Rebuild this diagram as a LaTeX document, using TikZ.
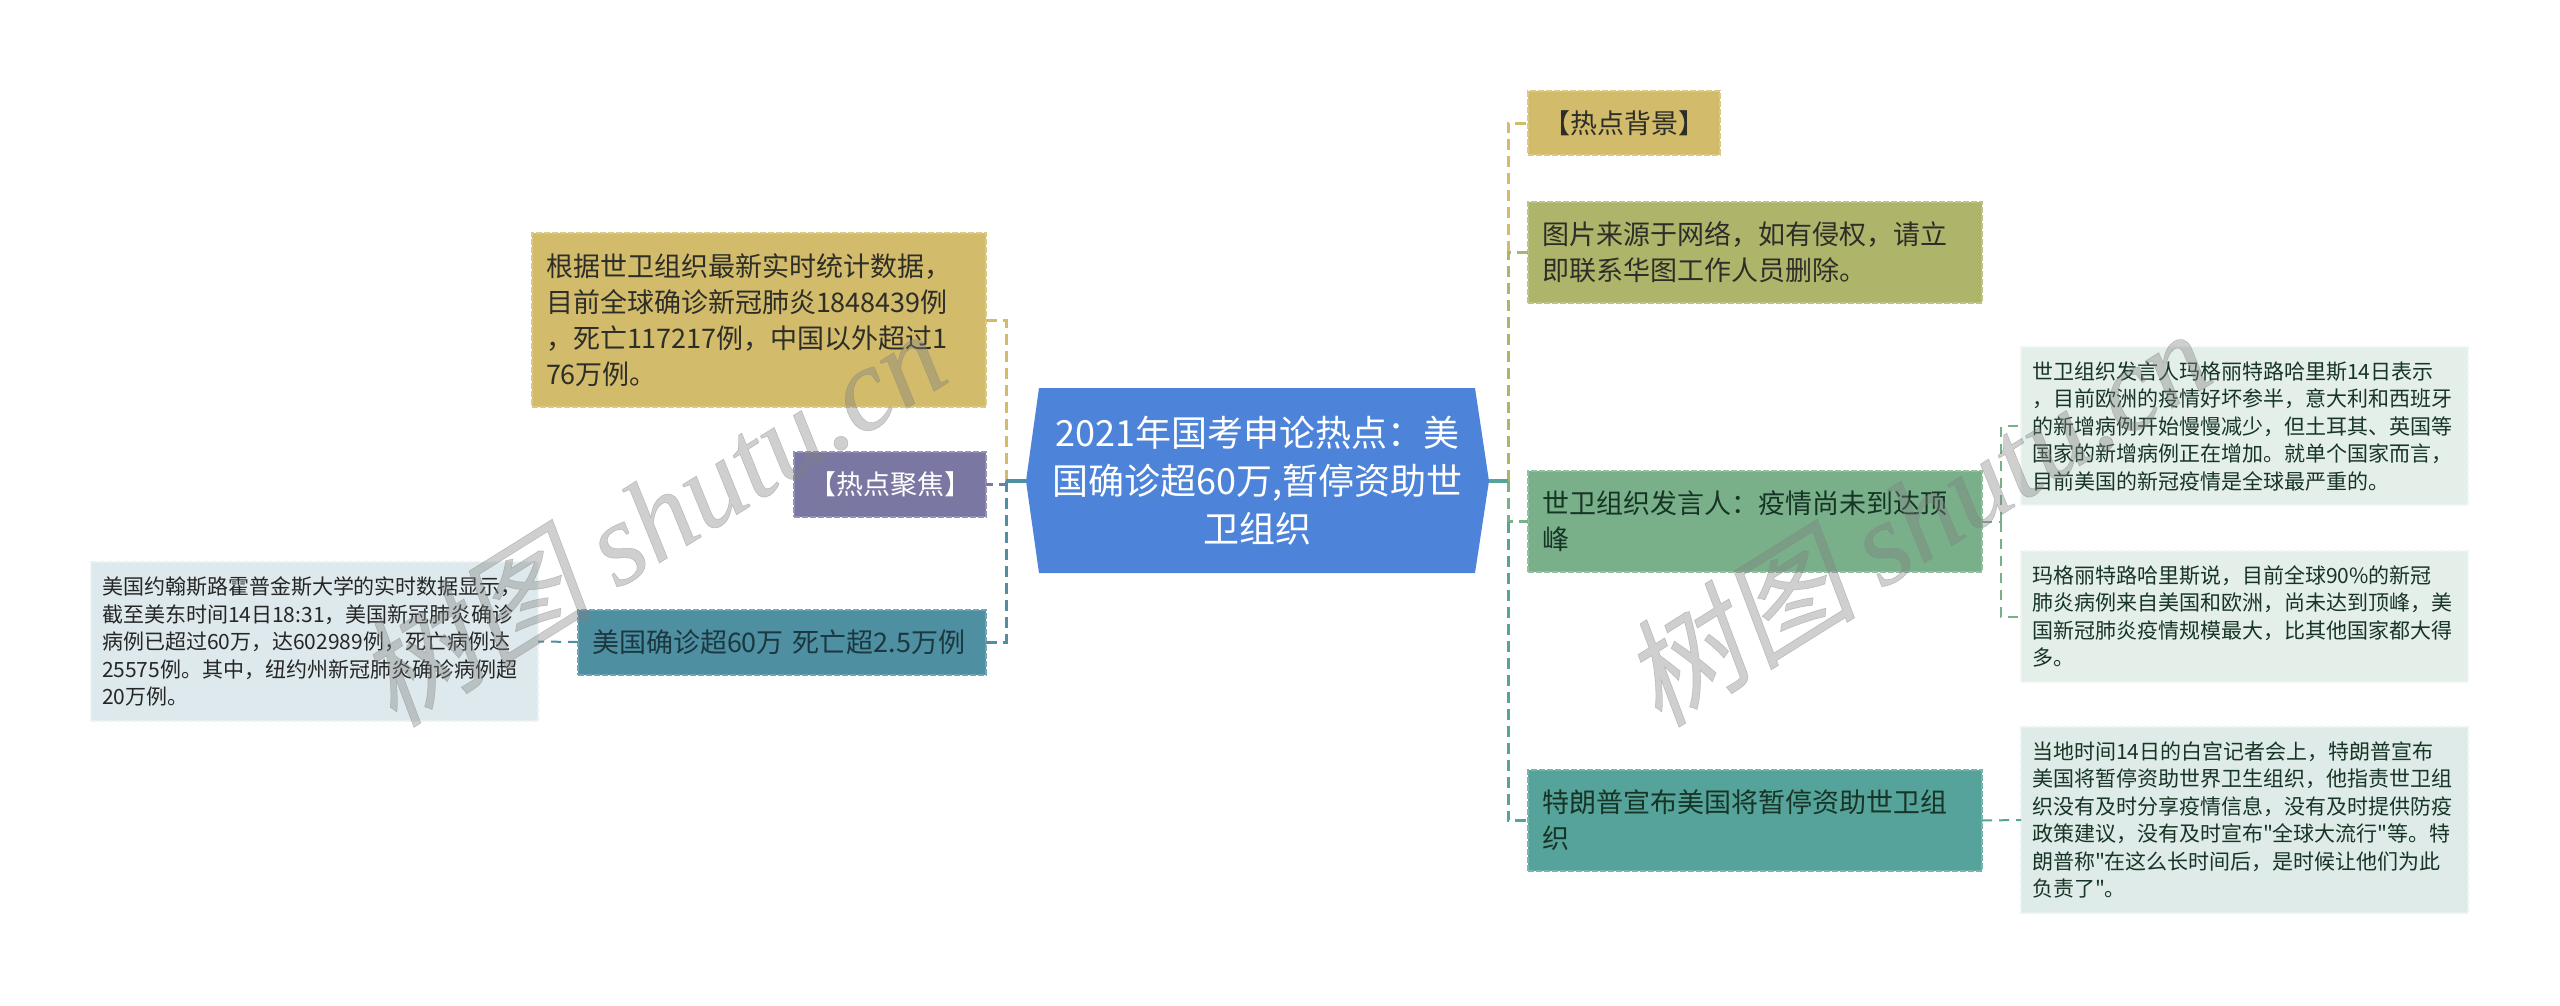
\documentclass[tikz,border=0pt]{standalone}
\usepackage{fontspec}
\newfontfamily\zh{Noto Sans CJK SC}
\setmainfont{Noto Sans CJK SC}
\newfontfamily\wmcjk[FakeSlant=0.2,FakeBold=0.5]{Noto Sans CJK SC}
\newfontfamily\wmlat[FakeBold=0.5]{Liberation Serif Italic}
\newcommand{\cma}{\char"FF0C\relax}
\newcommand{\cln}{\char"FF1A\relax}
\definecolor{cTan}{HTML}{D2BB6A}
\definecolor{cPurple}{HTML}{7A78A2}
\definecolor{cTeal}{HTML}{4F8FA2}
\definecolor{cOlive}{HTML}{AEB56B}
\definecolor{cGreen}{HTML}{79B08A}
\definecolor{cSea}{HTML}{55A39A}
\definecolor{cBlue}{HTML}{4D84DA}
\definecolor{dTeal}{HTML}{DDE9EC}
\definecolor{dGreen}{HTML}{E4EFE9}
\definecolor{dSea}{HTML}{DEEBE8}
\definecolor{inkGray}{HTML}{2E2E28}
\definecolor{inkTeal}{HTML}{1B3840}
\definecolor{inkGreen}{HTML}{173526}
\tikzset{
  x=1pt,y=-1pt,
  boxbase/.style={shape=rectangle,inner ysep=0pt,outer sep=0pt,line width=2pt,dash pattern=on 6pt off 2pt},
  midbox/.style n args={3}{boxbase,fill=#3,draw=#3!80!white,minimum width=#1 pt,minimum height=#2 pt,
     inner xsep=14pt,text width=#1 pt-28pt,align=left,font=\zh\fontsize{27}{36}\selectfont},
  tagbox/.style n args={3}{boxbase,fill=#3,draw=#3!80!white,minimum width=#1 pt,minimum height=#2 pt,
     inner xsep=0pt,align=center,font=\zh\fontsize{27}{36}\selectfont},
  detailbox/.style n args={3}{boxbase,fill=#3,draw=#3!60!white,minimum width=#1 pt,minimum height=#2 pt,
     inner xsep=11pt,text width=#1 pt-22pt,align=left,font=\zh\fontsize{21}{27.5}\selectfont},
  rootnode/.style={shape=rectangle,minimum width=463pt,minimum height=185pt,inner sep=0pt,outer sep=0pt,
     align=center,text=white,font=\zh\fontsize{36}{48}\selectfont},
  trunk/.style={draw=#1,line width=3.5pt},
  link/.style={draw=#1,line width=3pt,dash pattern=on 11pt off 6pt},
  thinlink/.style={draw=#1,line width=2pt,dash pattern=on 10pt off 7pt},
  watermark/.style={shape=rectangle,inner sep=0pt,rotate=32,text=gray,text opacity=0.38,font=\fontsize{118}{118}\selectfont},
}
\begin{document}
\begin{tikzpicture}
\useasboundingbox (0,0) rectangle (2560,1005);
% root hexagon
\fill[cBlue] (1039,388) -- (1475,388) -- (1489,481) -- (1475,573) -- (1039,573) -- (1026,481) -- cycle;
\node[rootnode] (root) at (1257.5,481) {2021年国考申论热点\cln{}美\\国确诊超60万,暂停资助世\\卫组织};
% left branch
\node[midbox={454}{174}{cTan},text=inkGray] (stat) at (759,320) {根据世卫组织最新实时统计数据\cma{}\\目前全球确诊新冠肺炎1848439例\\\cma{}死亡117217例\cma{}中国以外超过1\\76万例。};
\node[tagbox={192}{65}{cPurple},text=white] (focus) at (890,484.5) {【热点聚焦】};
\node[midbox={408}{65}{cTeal},text=inkTeal] (usa) at (782,642) {美国确诊超60万 死亡超2.5万例};
\node[detailbox={447}{159}{dTeal},text=black!85] (usad) at (314.5,641.5) {美国约翰斯路霍普金斯大学的实时数据显示\cma{}\\截至美东时间14日18:31\cma{}美国新冠肺炎确诊\\病例已超过60万\cma{}达602989例\cma{}死亡病例达\\25575例。其中\cma{}纽约州新冠肺炎确诊病例超\\20万例。};
% right branch
\node[tagbox={192}{64}{cTan},text=inkGray] (bg) at (1624,123) {【热点背景】};
\node[midbox={454}{101}{cOlive},text=inkGray] (pic) at (1755,252) {图片来源于网络\cma{}如有侵权\cma{}请立\\即联系华图工作人员删除。};
\node[midbox={454}{101}{cGreen},text=inkGreen] (who) at (1755,521.5) {世卫组织发言人\cln{}疫情尚未到达顶\\峰};
\node[midbox={454}{101}{cSea},text=inkGreen] (trump) at (1755,820.5) {特朗普宣布美国将暂停资助世卫组\\织};
\node[detailbox={447}{158}{dGreen},text=inkGreen] (whoa) at (2244.5,426) {世卫组织发言人玛格丽特路哈里斯14日表示\\\cma{}目前欧洲的疫情好坏参半\cma{}意大利和西班牙\\的新增病例开始慢慢减少\cma{}但土耳其、英国等\\国家的新增病例正在增加。就单个国家而言\cma{}\\目前美国的新冠疫情是全球最严重的。};
\node[detailbox={447}{131}{dGreen},text=inkGreen] (whob) at (2244.5,616.5) {玛格丽特路哈里斯说\cma{}目前全球90\%的新冠\\肺炎病例来自美国和欧洲\cma{}尚未达到顶峰\cma{}美\\国新冠肺炎疫情规模最大\cma{}比其他国家都大得\\多。};
\node[detailbox={447}{186}{dSea},text=inkGreen] (trumpd) at (2244.5,820) {当地时间14日的白宫记者会上\cma{}特朗普宣布\\美国将暂停资助世界卫生组织\cma{}他指责世卫组\\织没有及时分享疫情信息\cma{}没有及时提供防疫\\政策建议\cma{}没有及时宣布"全球大流行"等。特\\朗普称"在这么长时间后\cma{}是时候让他们为此\\负责了"。};
% bus coordinates
\coordinate (busL) at (1006,481);
\coordinate (busR) at (1508,481);
\coordinate (busRtop) at (1508,252);
\coordinate (busRlow) at (1508,521.5);
\coordinate (busW) at (2001,521.5);
% left connectors
\draw[link=cTan] (busL) |- (stat.east);
\draw[link=cTeal] (busL) |- (usa.east);
\draw[link=cPurple] (busL) |- (focus.east);
\draw[trunk=cTeal] (root.west) -- (busL);
\draw[thinlink=cTeal] (usa.west) -- (usad.east);
% right connectors
\draw[link=cTan] (busRtop) |- (bg.west);
\draw[link=cOlive] (busR) |- (pic.west);
\draw[link=cGreen] (busR) |- (who.west);
\draw[link=cSea] (busRlow) |- (trump.west);
\draw[trunk=cSea] (root.east) -- (busR);
\draw[thinlink=cGreen] (who.east) -- (busW);
\draw[thinlink=cGreen] (busW) |- (whoa.west);
\draw[thinlink=cGreen] (busW) |- (whob.west);
\draw[thinlink=cSea] (trump.east) -- (trumpd.west);
% watermarks
\node[watermark] (wm1) at (650,516) {{\wmcjk 树图} {\wmlat shutu.cn}};
\node[watermark] (wm2) at (1915,516) {{\wmcjk 树图} {\wmlat shutu.cn}};
\end{tikzpicture}
\end{document}
